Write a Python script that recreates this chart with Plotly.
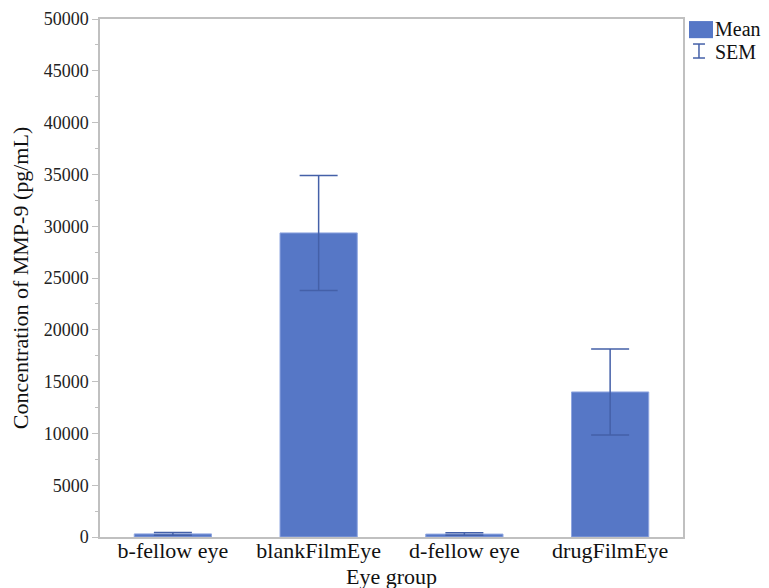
import plotly.graph_objects as go

categories = ["b-fellow eye", "blankFilmEye", "d-fellow eye", "drugFilmEye"]
mean_values = [300, 29350, 280, 14000]
sem_values = [130, 5550, 120, 4150]
y_ticks = [0, 5000, 10000, 15000, 20000, 25000, 30000, 35000, 40000, 45000, 50000]

bar_color = "#5677c6"
err_color = "#4460a8"
font_family = "Liberation Serif"

fig = go.Figure()
fig.add_trace(go.Bar(
    x=categories, y=mean_values, width=0.53,
    marker=dict(color=bar_color, line=dict(color="#8fa6e0", width=1)),
    error_y=dict(type="data", array=sem_values, visible=True,
                 color=err_color, thickness=1.5, width=19),
    name="Mean", showlegend=False,
))

# The page body has an 8px margin, so the figure is sized to fill the window.
fig.update_layout(
    width=761, height=580,
    margin=dict(l=92, r=86, t=11, b=51, autoexpand=False),
    paper_bgcolor="white", plot_bgcolor="white",
    font=dict(family=font_family, color="#222"),
    xaxis=dict(
        showline=True, linecolor="#c0c0c0", linewidth=1.5, mirror=True,
        ticks="", tickfont=dict(family=font_family, size=22, color="#111"),
        ticklabelstandoff=-7,
    ),
    yaxis=dict(
        range=[0, 50000], tickvals=y_ticks, ticktext=[str(v) for v in y_ticks],
        showgrid=False, zeroline=False,
        showline=True, linecolor="#c0c0c0", linewidth=1.5, mirror=True,
        ticks="outside", ticklen=6, tickcolor="#c0c0c0",
        minor=dict(ticks="outside", ticklen=3, tickcolor="#c0c0c0", dtick=2500),
        tickfont=dict(family=font_family, size=18, color="#222"),
        title=dict(text="Concentration of MMP-9 (pg/mL)",
                   font=dict(family=font_family, size=22, color="#111"), standoff=12),
    ),
)

# x-axis title placed as annotation for exact position
fig.add_annotation(xref="paper", yref="paper", x=0.5, y=-0.0753, text="Eye group",
                   showarrow=False, xanchor="center", yanchor="middle",
                   font=dict(family=font_family, size=22, color="#111"))

# Manual legend (paper coordinates)
fig.add_shape(type="rect", xref="paper", yref="paper",
              x0=1.0103, x1=1.0515, y0=0.963, y1=0.996, fillcolor=bar_color, line=dict(width=0))
fig.add_shape(type="line", xref="paper", yref="paper",
              x0=1.0274, x1=1.0274, y0=0.9247, y1=0.9517, line=dict(color=err_color, width=1.5))
fig.add_shape(type="line", xref="paper", yref="paper",
              x0=1.0172, x1=1.0377, y0=0.9517, y1=0.9517, line=dict(color=err_color, width=1.5))
fig.add_shape(type="line", xref="paper", yref="paper",
              x0=1.0172, x1=1.0377, y0=0.9247, y1=0.9247, line=dict(color=err_color, width=1.5))
fig.add_annotation(xref="paper", yref="paper", x=1.0532, y=0.9807, text="Mean",
                   showarrow=False, xanchor="left", yanchor="middle",
                   xshift=-1, font=dict(family=font_family, size=20, color="#111"))
fig.add_annotation(xref="paper", yref="paper", x=1.0532, y=0.9363, text="SEM",
                   showarrow=False, xanchor="left", yanchor="middle",
                   xshift=-1, font=dict(family=font_family, size=20, color="#111"))

fig.write_html("out.html")
